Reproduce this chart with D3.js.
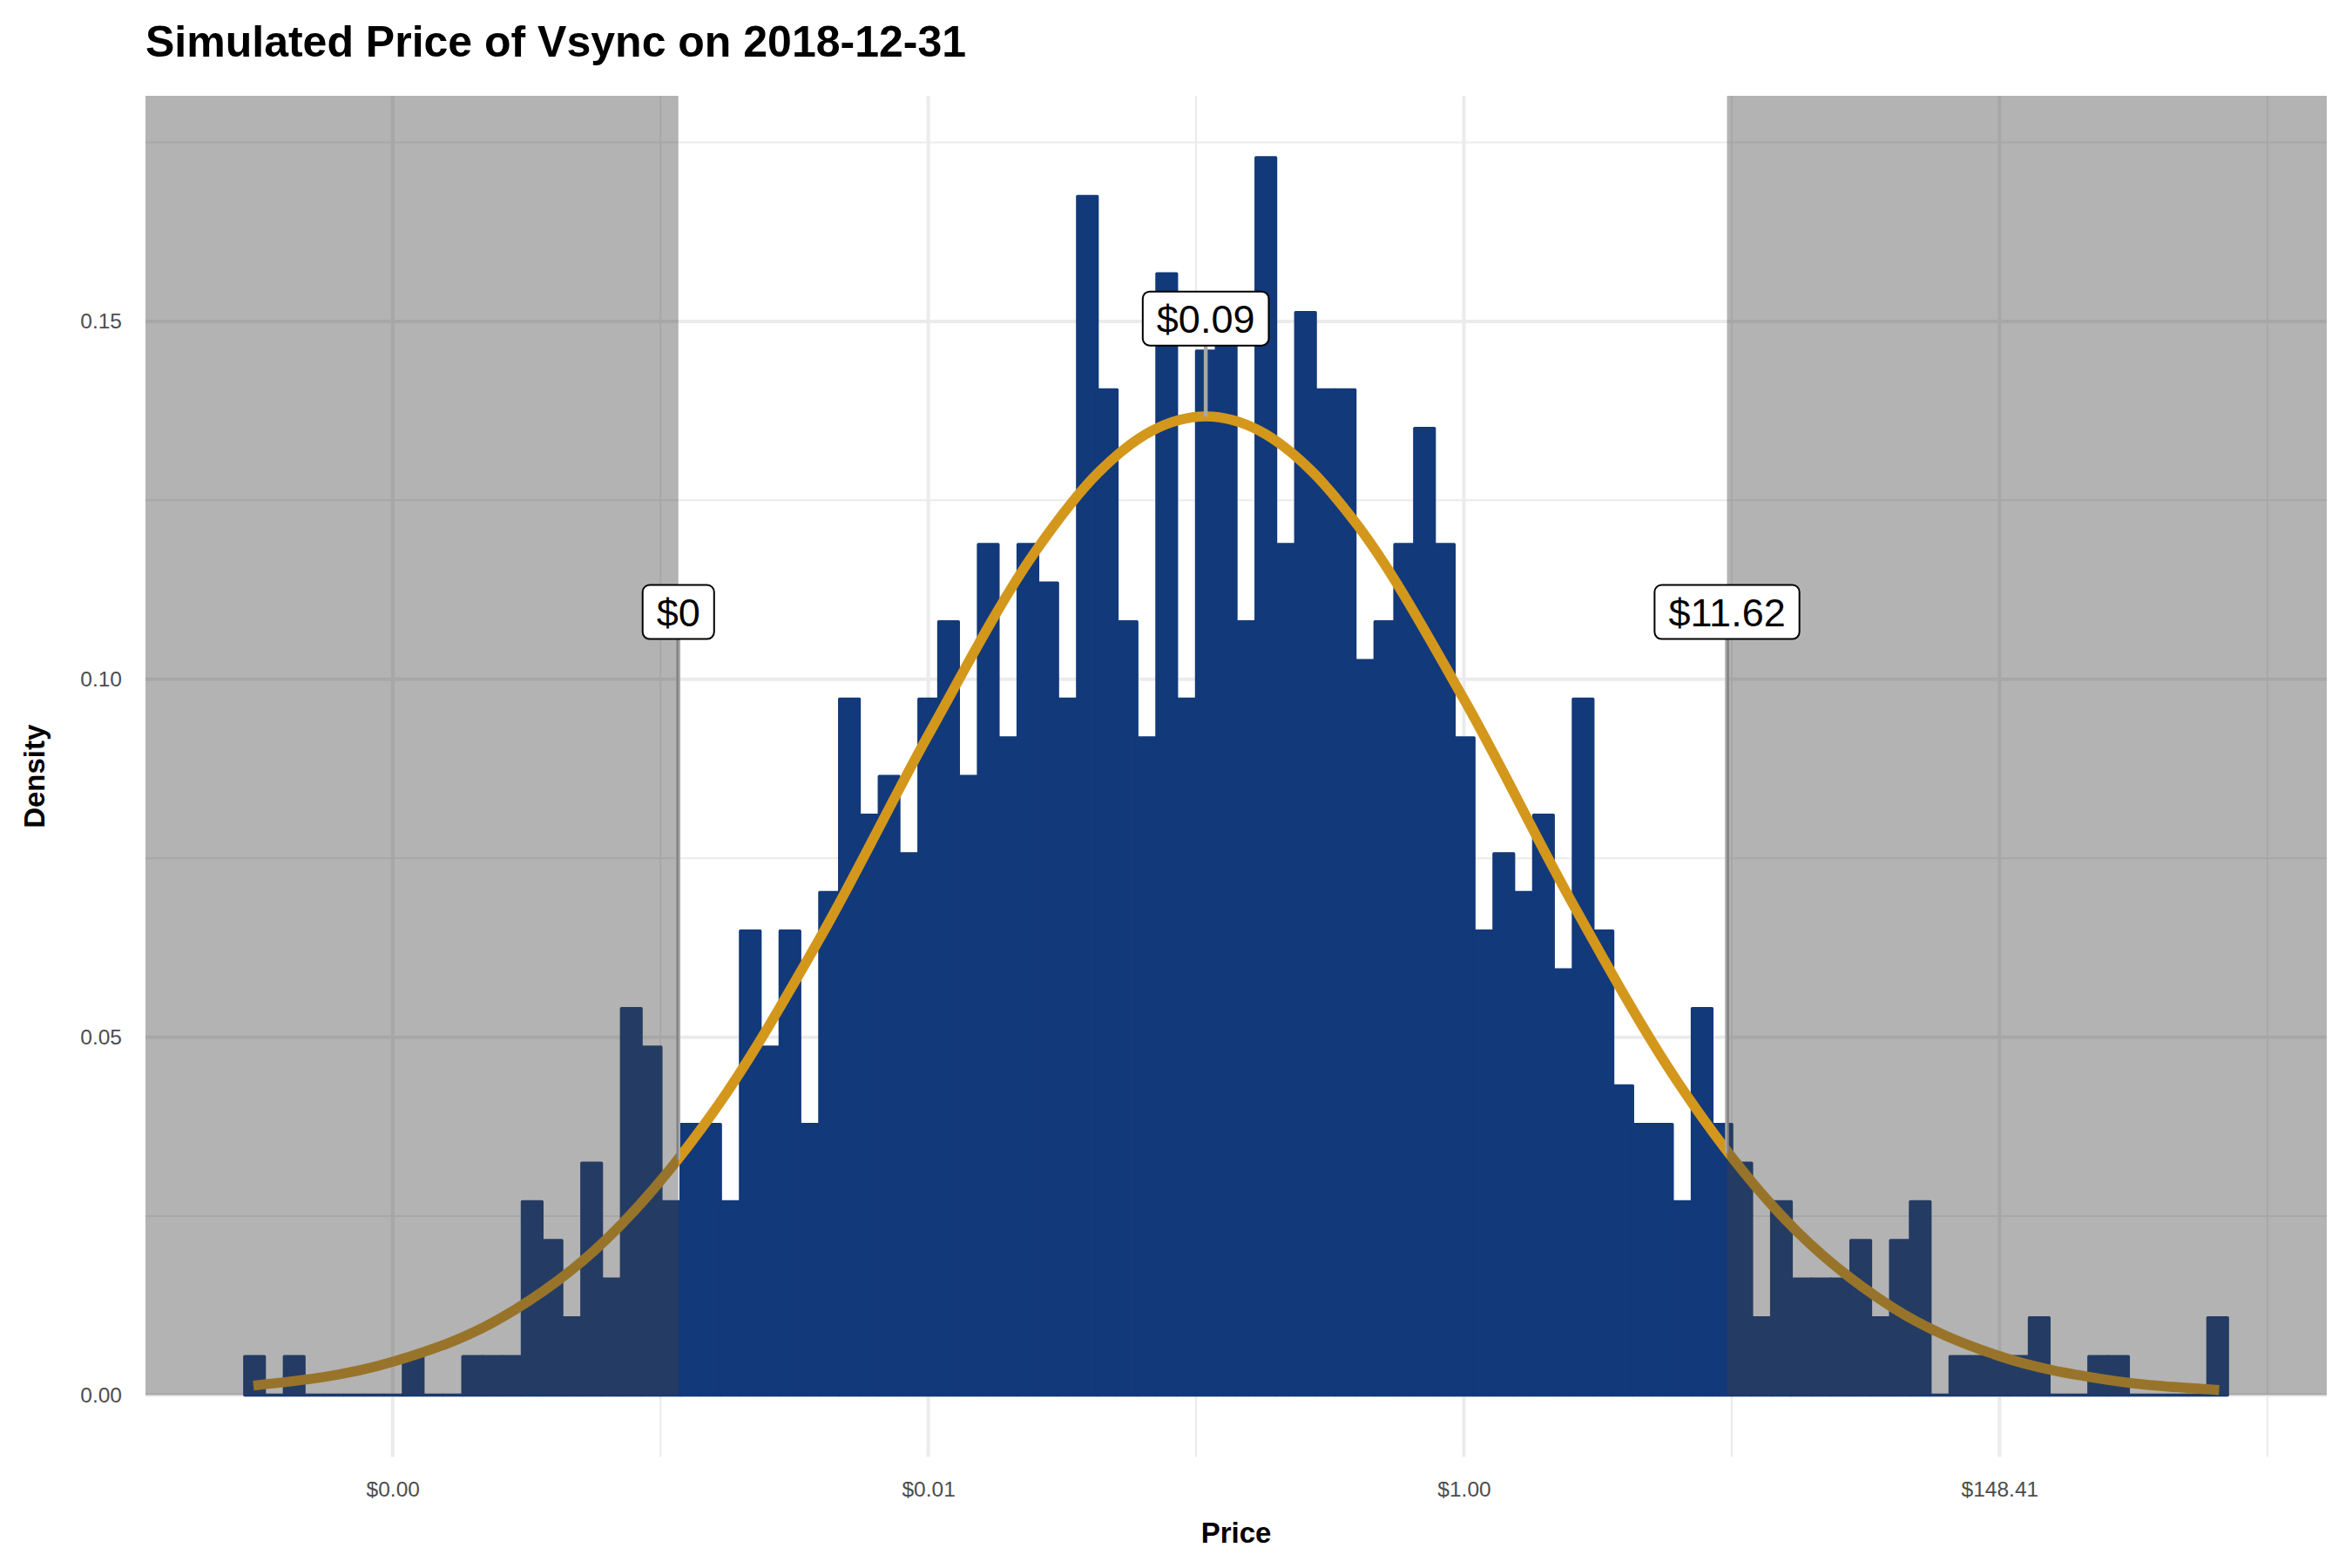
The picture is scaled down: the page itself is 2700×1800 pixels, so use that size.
<!DOCTYPE html>
<html>
<head>
<meta charset="utf-8">
<script src="https://cdn.jsdelivr.net/npm/d3@7"></script>
<style>
  html, body { margin: 0; padding: 0; background: #ffffff; }
  svg { display: block; }
  text { font-family: "Liberation Sans", Arial, Helvetica, sans-serif; }
</style>
</head>
<body>
<script>
// ---------------- data ----------------
const titleText = "Simulated Price of Vsync on 2018-12-31";
const xTitle = "Price";
const yTitle = "Density";

// histogram of log(price): 100 bins, 1000 simulations
const nSims = 1000;
const binStart = -11.382;      // left edge of first bin (log price)
const binWidth = 0.18511;      // bin width (log price)
const counts = [
  1, 0, 1, 0, 0, 0, 0, 0, 1, 0, 0, 1, 1, 1, 5, 4, 2, 6, 3, 10,
  9, 5, 7, 7, 5, 12, 9, 12, 7, 13, 18, 15, 16, 14, 18, 20, 16, 22, 17, 22,
  21, 18, 31, 26, 20, 17, 29, 18, 27, 28, 20, 32, 22, 28, 26, 26, 19, 20, 22, 25,
  22, 17, 12, 14, 13, 15, 11, 18, 12, 8, 7, 7, 5, 10, 7, 6, 2, 5, 3, 3,
  3, 4, 2, 4, 5, 0, 1, 1, 1, 1, 2, 0, 0, 1, 1, 0, 0, 0, 0, 2
];

// fitted normal curve
const curveX = [-11.3, -10, -9, -8, -7, -6, -5, -4, -3.41, -2.91, -2.41, -1.91, -1.41, -1, 0, 1, 2, 3, 4, 5, 6, 7.05];
const curveY = [0.00132, 0.00464, 0.01067, 0.02183, 0.03968, 0.06414, 0.09221, 0.11786, 0.12892, 0.13473, 0.13672,
                0.13473, 0.12892, 0.12166, 0.09721, 0.06907, 0.04364, 0.02451, 0.01225, 0.00544, 0.00215, 0.00071];

// quantile markers (5%, median, 95%)
const markerX = [-7.333, -2.41, 2.456];
const markerLabels = ["$0", "$0.09", "$11.62"];
const markerLabelY = [0.1094, 0.1504, 0.1094];
const markerBaseY = [0.0329, 0.1367, 0.0338];

// axes
const xTicks = [-10, -5, 0, 5];
const xTickLabels = ["$0.00", "$0.01", "$1.00", "$148.41"];
const xMinor = [-7.5, -2.5, 2.5, 7.5];
const yTicks = [0, 0.05, 0.10, 0.15];
const yTickLabels = ["0.00", "0.05", "0.10", "0.15"];
const yMinor = [0.025, 0.075, 0.125, 0.175];

// ---------------- layout ----------------
const W = 2700, H = 1800;
const panel = { left: 167, right: 2671, top: 110, bottom: 1672.5 };
const navy = "#12397a";
const gold = "#d3971c";

const bins = counts.map((c, i) => ({
  x0: binStart + i * binWidth,
  x1: binStart + (i + 1) * binWidth,
  d: c / (nSims * binWidth)
}));
const xLo = binStart, xHi = binStart + counts.length * binWidth;
const xPad = (xHi - xLo) * 0.05;
const dMax = d3.max(bins, b => b.d);

const x = d3.scaleLinear().domain([xLo - xPad, xHi + xPad]).range([panel.left, panel.right]);
const y = d3.scaleLinear().domain([-0.05 * dMax, 1.05 * dMax]).range([panel.bottom, panel.top]);

const svg = d3.select("body").append("svg").attr("width", W).attr("height", H);
svg.append("rect").attr("width", W).attr("height", H).attr("fill", "#ffffff");

// grid
const grid = svg.append("g");
grid.selectAll(".vmin").data(xMinor).join("line")
  .attr("x1", d => x(d)).attr("x2", d => x(d)).attr("y1", panel.top).attr("y2", panel.bottom)
  .attr("stroke", "#ebebeb").attr("stroke-width", 2);
grid.selectAll(".hmin").data(yMinor).join("line")
  .attr("x1", panel.left).attr("x2", panel.right).attr("y1", d => y(d)).attr("y2", d => y(d))
  .attr("stroke", "#ebebeb").attr("stroke-width", 2);
grid.selectAll(".vmaj").data(xTicks).join("line")
  .attr("x1", d => x(d)).attr("x2", d => x(d)).attr("y1", panel.top).attr("y2", panel.bottom)
  .attr("stroke", "#ebebeb").attr("stroke-width", 4);
grid.selectAll(".hmaj").data(yTicks).join("line")
  .attr("x1", panel.left).attr("x2", panel.right).attr("y1", d => y(d)).attr("y2", d => y(d))
  .attr("stroke", "#ebebeb").attr("stroke-width", 4);

// bars
svg.append("g").selectAll("path").data(bins).join("path")
  .attr("d", b => `M${x(b.x0)},${y(0)}V${y(b.d)}H${x(b.x1)}V${y(0)}Z`)
  .attr("fill", navy).attr("stroke", navy).attr("stroke-width", 3.4)
  .attr("stroke-linejoin", "round");

// normal curve
const line = d3.line().x(d => x(d[0])).y(d => y(d[1])).curve(d3.curveMonotoneX);
svg.append("path").datum(curveX.map((v, i) => [v, curveY[i]]))
  .attr("d", line).attr("fill", "none").attr("stroke", gold).attr("stroke-width", 11.5);

// marker segments
svg.append("g").selectAll("line").data(markerX).join("line")
  .attr("x1", d => x(d)).attr("x2", d => x(d))
  .attr("y1", (d, i) => y(markerBaseY[i])).attr("y2", (d, i) => y(markerLabelY[i]))
  .attr("stroke", "#a9a9a9").attr("stroke-width", 4.5);

// shaded tails (from y = 0 up to the top of the panel)
const tails = [[null, markerX[0]], [markerX[2], null]];
svg.append("g").selectAll("rect").data(tails).join("rect")
  .attr("x", d => d[0] === null ? panel.left : x(d[0]))
  .attr("width", d => (d[1] === null ? panel.right : x(d[1])) - (d[0] === null ? panel.left : x(d[0])))
  .attr("y", panel.top).attr("height", y(0) - panel.top)
  .attr("fill", "#404040").attr("fill-opacity", 0.4);

// labels
const lab = svg.append("g").selectAll("g").data(markerX).join("g")
  .attr("transform", (d, i) => `translate(${x(d)},${y(markerLabelY[i])})`);
lab.each(function (d, i) {
  const g = d3.select(this);
  const r = g.append("rect");
  const t = g.append("text").text(markerLabels[i])
    .attr("text-anchor", "middle").attr("y", 16)
    .attr("font-size", 45).attr("fill", "#000");
  const tw = t.node().getComputedTextLength();
  const pad = 16, h = 62;
  r.attr("x", -tw / 2 - pad).attr("y", -h / 2).attr("width", tw + 2 * pad).attr("height", h)
    .attr("rx", 8).attr("ry", 8).attr("fill", "#fff").attr("stroke", "#000").attr("stroke-width", 2);
});

// axes
const xAxis = d3.axisBottom(x).tickValues(xTicks).tickFormat((d, i) => xTickLabels[i])
  .tickSize(0).tickPadding(28);
const gx = svg.append("g").attr("transform", `translate(0,${panel.bottom})`).call(xAxis);
gx.select(".domain").remove();
gx.selectAll("text").attr("font-size", 24.5).attr("fill", "#4d4d4d")
  .attr("font-family", '"Liberation Sans", Arial, Helvetica, sans-serif');

const yAxis = d3.axisLeft(y).tickValues(yTicks).tickFormat((d, i) => yTickLabels[i])
  .tickSize(0).tickPadding(27);
const gy = svg.append("g").attr("transform", `translate(${panel.left},0)`).call(yAxis);
gy.select(".domain").remove();
gy.selectAll("text").attr("font-size", 24.5).attr("fill", "#4d4d4d")
  .attr("font-family", '"Liberation Sans", Arial, Helvetica, sans-serif');

// titles
svg.append("text").attr("x", 167).attr("y", 65).text(titleText)
  .attr("font-size", 50).attr("font-weight", "bold").attr("fill", "#000");
svg.append("text").attr("x", (panel.left + panel.right) / 2).attr("y", 1771).text(xTitle)
  .attr("text-anchor", "middle").attr("font-size", 33).attr("font-weight", "bold").attr("fill", "#000");
svg.append("text").attr("transform", `translate(51,${(panel.top + panel.bottom) / 2}) rotate(-90)`)
  .text(yTitle).attr("text-anchor", "middle").attr("font-size", 33).attr("font-weight", "bold").attr("fill", "#000");
</script>
</body>
</html>
